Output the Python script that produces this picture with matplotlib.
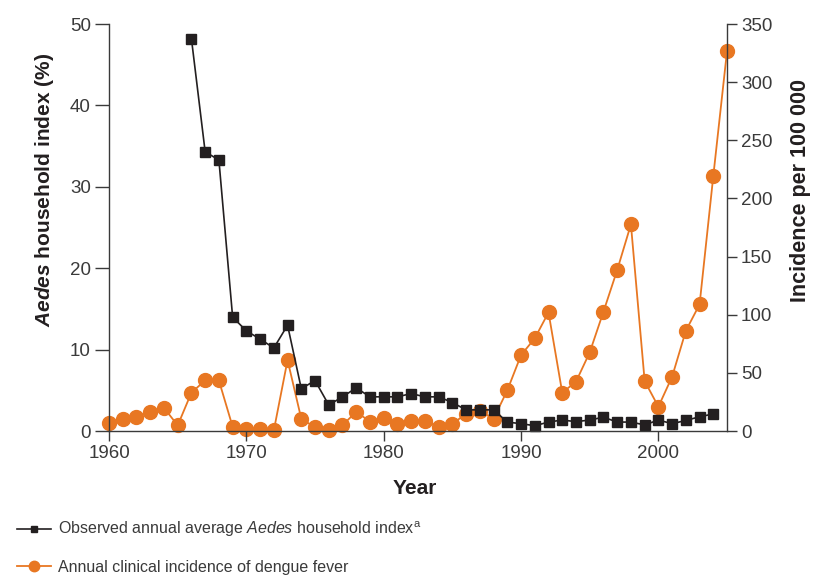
import numpy as np
import matplotlib
matplotlib.use("Agg")
import matplotlib.pyplot as plt

# Fonts
plt.rcParams['font.family'] = ['Liberation Sans', 'DejaVu Sans']
plt.rcParams['mathtext.fontset'] = 'custom'
plt.rcParams['mathtext.rm'] = 'Liberation Sans'
plt.rcParams['mathtext.it'] = 'Liberation Sans:italic'
plt.rcParams['mathtext.bf'] = 'Liberation Sans:bold'
plt.rcParams['mathtext.bfit'] = 'Liberation Sans:italic:bold'

# Aedes household index (%)
aedes_years = list(range(1966, 2005))
aedes_index = [48.2, 34.3, 33.3, 14.0, 12.3, 11.3, 10.2, 13.0, 5.2, 6.2,
               3.2, 4.2, 5.3, 4.2, 4.2, 4.2, 4.6, 4.2, 4.2, 3.5,
               2.6, 2.6, 2.6, 1.1, 0.9, 0.65, 1.1, 1.35, 1.15, 1.35,
               1.7, 1.1, 1.1, 0.75, 1.35, 0.9, 1.3, 1.75, 2.1]

# Annual clinical incidence of dengue fever (per 100 000)
dengue_years = list(range(1960, 2006))
dengue_incidence = [7, 10, 12, 16.5, 20, 4.8, 33, 43.5, 43.5, 3.7,
                    2, 2, 0.5, 61, 10.5, 3.2, 1.3, 5, 16.6, 8,
                    10.8, 6.3, 9, 9, 3.3, 6.2, 14.8, 17.4, 10.6, 35,
                    65.3, 79.7, 102, 33, 42.4, 67.6, 102.6, 138.4, 177.7, 43,
                    20.9, 46.7, 86.2, 108.9, 219.5, 327]

black = '#231f20'
orange = '#e87722'
grey = '#3a3a3a'

fig = plt.figure(figsize=(8.16, 5.76), dpi=100)
ax1 = fig.add_axes([0.1336, 0.2517, 0.7574, 0.7066])
ax2 = ax1.twinx()
ax2.set_zorder(ax1.get_zorder() - 1)
ax1.patch.set_visible(False)

ax2.plot(dengue_years, dengue_incidence, color=orange, lw=1.3, marker='o',
         markersize=10, clip_on=False,
         label='Annual clinical incidence of dengue fever')
ax1.plot(aedes_years, aedes_index, color=black, lw=1.2, marker='s',
         markersize=6.5, clip_on=False,
         label=r'Observed annual average $\mathit{Aedes}$ household index$^{\mathrm{a}}$')

ax1.set_xlim(1960, 2005)
ax1.set_ylim(0, 50)
ax2.set_ylim(0, 350)
ax1.set_xticks(range(1960, 2001, 10))
ax1.set_yticks(range(0, 51, 10))
ax2.set_yticks(range(0, 351, 50))

for ax in (ax1, ax2):
    for s in ax.spines.values():
        s.set_color(grey)
        s.set_linewidth(1.0)
    ax.spines['top'].set_visible(False)
    ax.tick_params(colors=grey, labelsize=13.5, length=7, width=1.0, pad=3)
ax1.tick_params(axis='y', length=10)
ax1.spines['right'].set_visible(False)
ax2.spines['left'].set_visible(False)
ax2.spines['bottom'].set_visible(False)

ax1.set_xlabel('Year', fontsize=15, fontweight='bold', color=black)
ax1.xaxis.set_label_coords(0.495, -0.118)
ax1.set_ylabel(r'$\mathbfit{Aedes}$ household index (%)', fontsize=15,
               fontweight='bold', color=black)
ax1.yaxis.set_label_coords(-0.086, 0.592)
ax2.set_ylabel('Incidence per 100 000', fontsize=15.5, fontweight='bold',
               color=black)
ax2.yaxis.set_label_coords(1.102, 0.592)

h1, l1 = ax1.get_legend_handles_labels()
h2, l2 = ax2.get_legend_handles_labels()
fig.legend(h1 + h2, l1 + l2, loc='upper left', bbox_to_anchor=(0.013, 0.109),
           frameon=False, fontsize=11.5, handlelength=2.1, handletextpad=0.45,
           labelspacing=1.3, labelcolor=grey, borderaxespad=0, markerscale=0.75)

fig.savefig('out.png', dpi=100)
